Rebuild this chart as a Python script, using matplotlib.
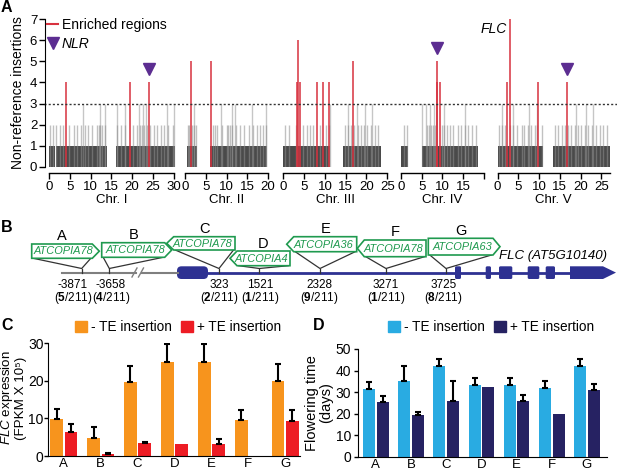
import numpy as np
import matplotlib
matplotlib.use('Agg')
import matplotlib.pyplot as plt
import matplotlib.transforms as mtransforms
from matplotlib.patches import Polygon, Patch, FancyBboxPatch
from matplotlib.lines import Line2D

plt.rcParams['font.family'] = ['Liberation Sans', 'DejaVu Sans']
plt.rcParams['mathtext.fontset'] = 'custom'
plt.rcParams['mathtext.rm'] = 'Liberation Sans'
plt.rcParams['mathtext.it'] = 'Liberation Sans:italic'
plt.rcParams['mathtext.bf'] = 'Liberation Sans:bold'

# ---------------- data: panel A (positions in Mb) ----------------
chr_names = ['Chr. I', 'Chr. II', 'Chr. III', 'Chr. IV', 'Chr. V']
chr_len = [30.4, 19.7, 23.5, 18.6, 27.0]

# stretches with one insertion per window
ones_blocks = [
    [(0.0, 1.4), (1.8, 13.9), (16.2, 30.4)],
    [(0.5, 2.9), (5.9, 19.7)],
    [(0.0, 11.3), (14.3, 23.4)],
    [(0.0, 1.8), (5.0, 18.6)],
    [(0.0, 11.0), (13.4, 27.0)],
]
twos = [
    [0.2, 1.0, 1.75, 2.6, 3.4, 4.8, 6.0, 6.8, 7.6, 8.6, 9.4, 10.4, 11.6, 12.0, 12.4,
     12.8, 13.4, 16.4, 17.3, 18.4, 20.2, 21.2, 22.0, 22.5, 23.0, 23.6, 24.4, 25.2,
     26.1, 26.9, 27.8, 28.6, 29.8],
    [0.6, 1.0, 1.6, 2.2, 2.7, 6.7, 7.1, 7.8, 8.8, 10.0, 10.4, 10.8, 11.4, 12.2, 13.2,
     14.1, 15.3, 16.3, 17.2, 18.0, 18.8, 19.6],
    [0.4, 1.4, 3.0, 4.8, 5.6, 6.4, 7.1, 8.7, 10.3, 11.0, 14.9, 15.5, 16.3, 17.1, 17.9,
     18.7, 19.5, 20.2, 21.0, 22.0, 22.8],
    [0.8, 1.4, 6.2, 6.7, 7.2, 7.8, 8.2, 9.8, 10.4, 11.0, 11.8, 12.6, 13.8, 14.5, 15.4,
     16.2, 17.2, 18.2],
    [0.3, 1.0, 1.8, 3.0, 3.8, 4.6, 5.8, 6.4, 7.4, 8.0, 9.0, 9.4, 10.6, 13.8, 14.6,
     15.4, 16.2, 17.0, 17.8, 18.6, 19.4, 20.2, 21.0, 21.8, 22.8, 23.8, 24.6, 25.5, 26.3],
]
threes = [
    [8.3, 12.3, 13.4, 16.5, 18.3, 21.7, 22.6, 23.4, 28.5, 30.0],
    [2.2, 8.6, 11.4, 12.0, 16.1, 19.6],
    [11.3, 15.5, 17.6, 19.7, 21.3],
    [5.2, 6.0, 7.0, 8.0, 10.4, 15.4],
    [1.0, 3.8, 7.5, 9.5, 19.0, 21.4, 22.9],
]
enriched_pos = [
    [4.1, 19.4, 24.0],
    [1.3, 6.3],
    [3.2, 3.6, 4.0, 8.0, 9.5, 10.9, 16.7],
    [8.6, 8.8, 9.5],
    [2.3, 3.0, 9.8, 16.6],
]
enriched_cnt = [
    [4, 4, 4],
    [5, 5],
    [4, 6, 4, 4, 4, 4, 5],
    [5, 4, 4],
    [4, 7, 4, 4],
]
nlr_chr = [0, 3, 4]
nlr_pos = [24.0, 8.6, 16.6]
nlr_cnt = [4, 5, 4]
flc_chr, flc_pos, flc_cnt = 4, 3.0, 7

# ---------------- data: panel B ----------------
te_site = ['A', 'B', 'C', 'D', 'E', 'F', 'G']
te_family = ['ATCOPIA78', 'ATCOPIA78', 'ATCOPIA78', 'ATCOPIA4', 'ATCOPIA36',
             'ATCOPIA78', 'ATCOPIA63']
te_pos = [-3871, -3658, 323, 1521, 2328, 3271, 3725]
te_carriers = [5, 4, 2, 1, 9, 1, 8]
n_accessions = 211
te_forward = [True, True, False, False, False, False, True]

# ---------------- data: panels C and D ----------------
groups = ['A', 'B', 'C', 'D', 'E', 'F', 'G']
flc_minus = [9.8, 4.9, 19.6, 24.9, 24.9, 9.6, 20.0]
flc_minus_err = [2.6, 2.7, 4.4, 4.8, 4.8, 2.7, 4.5]
flc_plus = [6.3, 0.45, 3.4, 3.3, 3.2, 0.0, 9.4]
flc_plus_err = [2.1, 0.35, 0.2, 0.0, 1.2, 0.0, 2.8]

ft_minus = [31.3, 35.3, 42.3, 33.3, 33.3, 31.9, 42.1]
ft_minus_err = [3.2, 6.8, 2.9, 3.4, 3.4, 3.2, 3.1]
ft_plus = [25.5, 19.3, 26.0, 32.2, 25.9, 19.7, 31.0]
ft_plus_err = [2.8, 1.3, 9.1, 0.0, 2.6, 0.0, 2.6]

# ---------------- layout ----------------
W, H = 617, 471
fig = plt.figure(figsize=(W / 100, H / 100), dpi=100)


def rect(l, t, r, b):
    return [l / W, 1 - b / H, (r - l) / W, (b - t) / H]


red = '#d8323f'
purple = '#5c2d91'
green = '#1f9a4f'
blue = '#2e3192'

# ---------------- panel A ----------------
axA = fig.add_axes(rect(49, 19, 617, 167))
chr_start = [0, 32.8, 56.5, 84.8, 108.1]
chr_axis = [30, 20, 25, 20, 27]

for i in range(5):
    s = chr_start[i]
    for a, b in ones_blocks[i]:
        axA.bar(s + a, 1, width=b - a, align='edge', color='#4a4a4a', lw=0)
    axA.vlines(s + np.array(twos[i]), 0, 2, color='#8f8f8f', alpha=0.55, lw=1.0)
    axA.vlines(s + np.array(threes[i]), 0, 3, color='#8f8f8f', alpha=0.5, lw=1.0)
    axA.vlines(s + np.array(enriched_pos[i]), 0, enriched_cnt[i], color=red,
               alpha=0.85, lw=1.3)

for c, p, n in zip(nlr_chr, nlr_pos, nlr_cnt):
    axA.plot(chr_start[c] + p, n + 0.65, marker='v', color=purple, ms=8, ls='none')

axA.text(chr_start[flc_chr] + flc_pos - 0.7, flc_cnt - 0.47, 'FLC', style='italic',
         ha='right', va='center', fontsize=10)

axA.axhline(3, xmin=-0.008, xmax=1, color='#333333', ls=(0, (1.5, 1.5)), lw=1,
            clip_on=False)

axA.set_xlim(0, (W - 49) / 4.15)
axA.set_ylim(0, 7)
axA.set_yticks(range(8))
for sp in ['top', 'right']:
    axA.spines[sp].set_visible(False)
axA.spines['left'].set_position(('outward', 3))
axA.spines['bottom'].set_position(('outward', 4.3))
axA.spines['bottom'].set_visible(False)

ticks, labels = [], []
for i in range(5):
    for k in range(0, chr_axis[i] + 1, 5):
        ticks.append(chr_start[i] + k)
        labels.append('' if (i == 3 and k == 20) else str(k))
axA.set_xticks(ticks, labels)
axA.tick_params(axis='both', direction='out', length=4, width=1, labelsize=9.5, pad=1.5)

seg = axA.get_xaxis_transform() + mtransforms.ScaledTranslation(0, -4.3 / 72, fig.dpi_scale_trans)
for i in range(5):
    axA.plot([chr_start[i], chr_start[i] + chr_axis[i]], [0, 0], color='black', lw=1,
             transform=seg, clip_on=False)
    axA.text(chr_start[i] + chr_axis[i] / 2, -0.225, chr_names[i], ha='center',
             va='center', fontsize=9.5, transform=axA.get_xaxis_transform())

axA.set_ylabel('Non-reference insertions', fontsize=10)
axA.yaxis.set_label_coords(-0.043, 0.5)

leg = axA.legend(handles=[Line2D([], [], color=red, lw=1.5),
                          Line2D([], [], color=purple, marker='v', ls='none', ms=8)],
                 labels=['Enriched regions', 'NLR'], loc='upper left',
                 bbox_to_anchor=(-0.003, 1.01), frameon=False, fontsize=10,
                 handlelength=0.75, handletextpad=0.3, borderpad=0, borderaxespad=0,
                 labelspacing=0.4)
leg.get_texts()[1].set_style('italic')

# ---------------- panel B (schematic, pixel space) ----------------
axB = fig.add_axes([0, 0, 1, 1])
axB.set_xlim(0, W)
axB.set_ylim(H, 0)
axB.axis('off')
axB.patch.set_visible(False)

line_y = 272.5
grey = '#7f7f7f'
axB.plot([62, 135.5], [line_y, line_y], color=grey, lw=1.5)
axB.plot([141.5, 178], [line_y, line_y], color=grey, lw=1.5)
for dx in (134.5, 141):
    axB.plot([dx - 2.5, dx + 2.5], [line_y + 4.5, line_y - 4.5], color=grey, lw=1)
axB.plot([206, 605], [line_y, line_y], color=blue, lw=2)
axB.add_patch(FancyBboxPatch((177, 266.3), 31, 12.7,
                             boxstyle='round,pad=0,rounding_size=4.5', fc=blue, lw=0))
for x0, x1 in [(455, 461), (485.7, 491), (499, 512.3), (527.7, 539.3), (545.7, 555)]:
    axB.add_patch(FancyBboxPatch((x0, 266.3), x1 - x0, 12.7,
                                 boxstyle='round,pad=0,rounding_size=1.5', fc=blue, lw=0))
axB.add_patch(Polygon([(570, 266.3), (603, 266.3), (616, 272.6), (603, 279), (570, 279)],
                      closed=True, fc=blue, lw=0))
axB.text(553, 256.5, 'FLC (AT5G10140)', style='italic', ha='center', va='center',
         fontsize=9.5)

site_x = [81.7, 109.3, 219, 259.3, 320, 386, 446]
label_x = [73, 111, 219, 260.5, 319.5, 386, 443.5]
box_x = [(31.7, 99.3), (101.7, 171.7), (166.7, 235), (230, 290), (286.7, 356.7),
         (357.3, 426), (428.3, 500)]
box_y = [(244, 258.3), (242.7, 257.3), (236.7, 250), (251, 265.7), (236.7, 251.7),
         (240, 256.7), (238.3, 255)]
apex_y = 268.5
tip = 7
for i in range(len(te_site)):
    x0, x1 = box_x[i]
    y0, y1 = box_y[i]
    ym = (y0 + y1) / 2
    if te_forward[i]:
        pts = [(x0, y0), (x1 - tip, y0), (x1, ym), (x1 - tip, y1), (x0, y1)]
        b0, b1 = x0, x1 - tip
        tx = (x0 + x1) / 2 - tip / 4
    else:
        pts = [(x0 + tip, y0), (x1, y0), (x1, y1), (x0 + tip, y1), (x0, ym)]
        b0, b1 = x0 + tip, x1
        tx = (x0 + x1) / 2 + tip / 4
    axB.add_patch(Polygon(pts, closed=True, fc='white', ec=green, lw=1.2, zorder=3))
    axB.text(tx, ym + 0.3, te_family[i], style='italic', color=green,
             ha='center', va='center', fontsize=7.9, zorder=4)
    axB.text((b0 + b1) / 2, y0 - 7.5, te_site[i], ha='center', va='center', fontsize=10.5)
    sx = site_x[i]
    axB.plot([b0 + 1.5, sx, b1 - 1.5], [y1, apex_y, y1], color='#333333', lw=0.9)
    axB.plot([sx, sx], [apex_y, line_y], color='#333333', lw=0.9)
    axB.text(label_x[i], 285, str(te_pos[i]), ha='center', va='center', fontsize=8.5)
    axB.text(label_x[i], 298, r'($\mathbf{%d}$/%d)' % (te_carriers[i], n_accessions),
             ha='center', va='center', fontsize=8.5)

# panel letters
for lab, x, y in [('A', 1, 8), ('B', 1, 227.5), ('C', 1, 325), ('D', 313, 325)]:
    fig.text(x / W, 1 - y / H, lab, fontsize=11.5, fontweight='bold', va='center')


# ---------------- panels C and D ----------------
def grouped(ax, minus, minus_err, plus, plus_err, c1, c2, w, gap, ypad):
    x = np.arange(len(groups))
    xm = x - w / 2 - gap / 2
    xp = x + w / 2 + gap / 2
    ax.bar(xm, minus, w, color=c1, lw=0)
    ax.bar(xp, plus, w, color=c2, lw=0)
    for xs, vals, errs in [(xm, minus, minus_err), (xp, plus, plus_err)]:
        keep = np.array(errs) > 0
        ax.errorbar(xs[keep], np.array(vals)[keep],
                    yerr=[np.zeros(keep.sum()), np.array(errs)[keep]],
                    fmt='none', ecolor='black', elinewidth=1.5, capsize=2.5, capthick=1.5)
    ax.set_xticks(x, groups)
    for sp in ['top', 'right']:
        ax.spines[sp].set_visible(False)
    ax.tick_params(axis='y', direction='out', length=3, width=1, labelsize=10, pad=ypad)
    ax.tick_params(axis='x', length=0, labelsize=9.5, pad=1.5)


axC = fig.add_axes(rect(48.3, 343.3, 300, 456))
grouped(axC, flc_minus, flc_minus_err, flc_plus, flc_plus_err, '#f7941d', '#ed1c24',
        0.345, 0.045, 0.5)
axC.set_xlim(-0.42, 6.4)
axC.set_ylim(0, 30)
axC.set_yticks([0, 10, 20, 30])
# two-line y label placed line by line
fig.text(7.5 / W, 1 - 398 / H, r'$\it{FLC}$ expression', rotation=90, ha='center',
         va='center', fontsize=9.6)
fig.text(21.5 / W, 1 - 398 / H, '(FPKM X 10\u2075)', rotation=90, ha='center',
         va='center', fontsize=9.6)
fig.legend(handles=[Patch(color='#f7941d'), Patch(color='#ed1c24')],
           labels=['- TE insertion', '+ TE insertion'], ncol=2, frameon=False,
           loc='center left', bbox_to_anchor=(75 / W, 1 - 327 / H), fontsize=9.8,
           handlelength=0.85, handleheight=0.85, handletextpad=0.3, columnspacing=0.7,
           borderpad=0, borderaxespad=0)

axD = fig.add_axes(rect(358.3, 349, 607, 456.7))
grouped(axD, ft_minus, ft_minus_err, ft_plus, ft_plus_err, '#29abe2', '#262262',
        0.34, 0.05, 2)
axD.set_xlim(-0.5, 6.57)
axD.set_ylim(0, 50)
axD.set_yticks(range(0, 51, 10))
axD.set_ylabel('Flowering time\n(days)', fontsize=10.5, linespacing=1.0)
axD.yaxis.set_label_coords(-0.102, 0.5)
fig.legend(handles=[Patch(color='#29abe2'), Patch(color='#262262')],
           labels=['- TE insertion', '+ TE insertion'], ncol=2, frameon=False,
           loc='center left', bbox_to_anchor=(388 / W, 1 - 327 / H), fontsize=9.8,
           handlelength=0.85, handleheight=0.85, handletextpad=0.3, columnspacing=0.7,
           borderpad=0, borderaxespad=0)

fig.savefig('out.png', dpi=100)
